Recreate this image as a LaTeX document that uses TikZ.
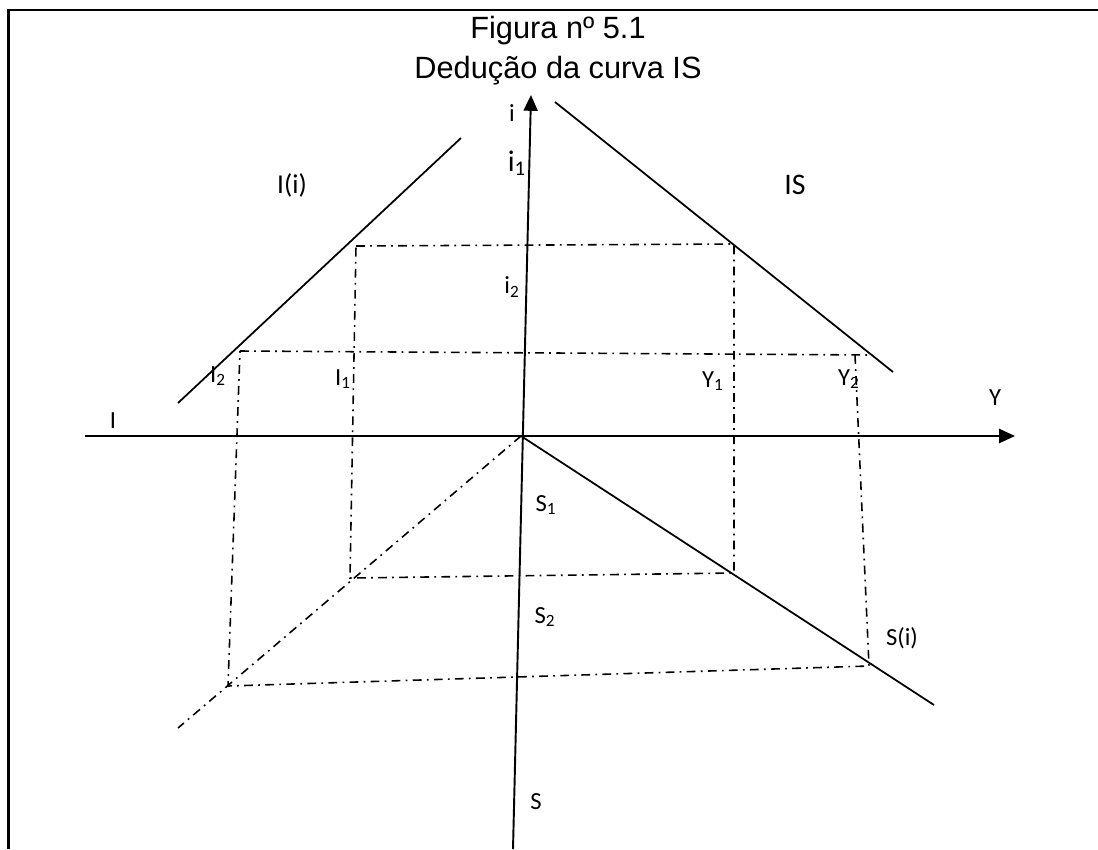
\documentclass[tikz,border=0pt]{standalone}
\usepackage{fontspec}
\setmainfont{Carlito}
\newfontfamily\titlefont{Liberation Sans}
\usetikzlibrary{arrows.meta}

\begin{document}
\begin{tikzpicture}[x=0.02cm, y=-0.02cm,
    frame/.style={line width=1.7pt},
    axis/.style={line width=1.1pt, -{Triangle[length=9pt,width=8pt]}},
    curve/.style={line width=1pt},
    guide/.style={line width=0.9pt, dash pattern=on 5pt off 3pt on 1pt off 3pt},
    lbl/.style={font=\fontsize{14}{16}\selectfont, inner sep=1pt},
    biglbl/.style={font=\fontsize{17}{20}\selectfont, inner sep=1pt},
    ttl/.style={font=\titlefont\fontsize{17.5}{21}\selectfont, anchor=base, inner sep=0pt}]
  \useasboundingbox (0,0) rectangle (1098,849);
  \draw[frame] (8.5,849) -- (8.5,10) -- (1098,10);
  % title
  \node[ttl] (title1) at (558,38) {Figura nº 5.1};
  \node[ttl] (title2) at (558,78) {Dedução da curva IS};
  % axes
  \coordinate (O) at (521,436);
  \coordinate (ibot) at (513,849);
  \coordinate (itop) at (531,95);
  \coordinate (yleft) at (85,436);
  \coordinate (yright) at (1015,436);
  \draw[axis] (ibot) -- (itop);
  \draw[axis] (yleft) -- (yright);
  % curves
  \coordinate (inva) at (178,403);
  \coordinate (invb) at (461,138);
  \coordinate (isa) at (555,102);
  \coordinate (isb) at (893,372);
  \coordinate (sav) at (934,705);
  \coordinate (diag) at (178,728);
  \draw[curve] (inva) -- (invb);
  \draw[curve] (isa) -- (isb);
  \draw[curve] (O) -- (sav);
  \draw[guide] (O) -- (diag);
  % first rectangle (i1)
  \coordinate (p1) at (356,246);
  \coordinate (q1) at (734,244);
  \coordinate (r1) at (734,573);
  \coordinate (t1) at (350,578);
  \draw[guide] (p1) -- (q1) -- (r1) -- (t1) -- (p1);
  % second rectangle (i2)
  \coordinate (p2) at (240,351);
  \coordinate (q2) at (871,355);
  \coordinate (q2v) at (855,355);
  \coordinate (r2) at (869,666);
  \coordinate (t2) at (228,686);
  \draw[guide] (p2) -- (q2);
  \draw[guide] (q2v) -- (r2) -- (t2) -- (p2);
  % labels
  \node[lbl] (li) at (512,113) {i};
  \node[biglbl] (li1) at (517,163) {i\textsubscript{1}};
  \node[lbl] (li2) at (512,287) {i\textsubscript{2}};
  \node[biglbl, font=\fontsize{15.5}{18}\selectfont] (linv) at (292,185) {I(i)};
  \node[biglbl] (lis) at (795,185) {IS};
  \node[lbl] (lI2) at (218,376) {I\textsubscript{2}};
  \node[lbl] (lI1) at (343,379) {I\textsubscript{1}};
  \node[lbl] (lY1) at (713,381) {Y\textsubscript{1}};
  \node[lbl] (lY2) at (849,379) {Y\textsubscript{2}};
  \node[lbl] (lY) at (995,398) {Y};
  \node[lbl] (lI) at (113,421) {I};
  \node[lbl] (lS1) at (546,505) {S\textsubscript{1}};
  \node[lbl] (lS2) at (545,617) {S\textsubscript{2}};
  \node[lbl] (lsav) at (902,638) {S(i)};
  \node[lbl] (lS) at (536,802) {S};
\end{tikzpicture}
\end{document}
